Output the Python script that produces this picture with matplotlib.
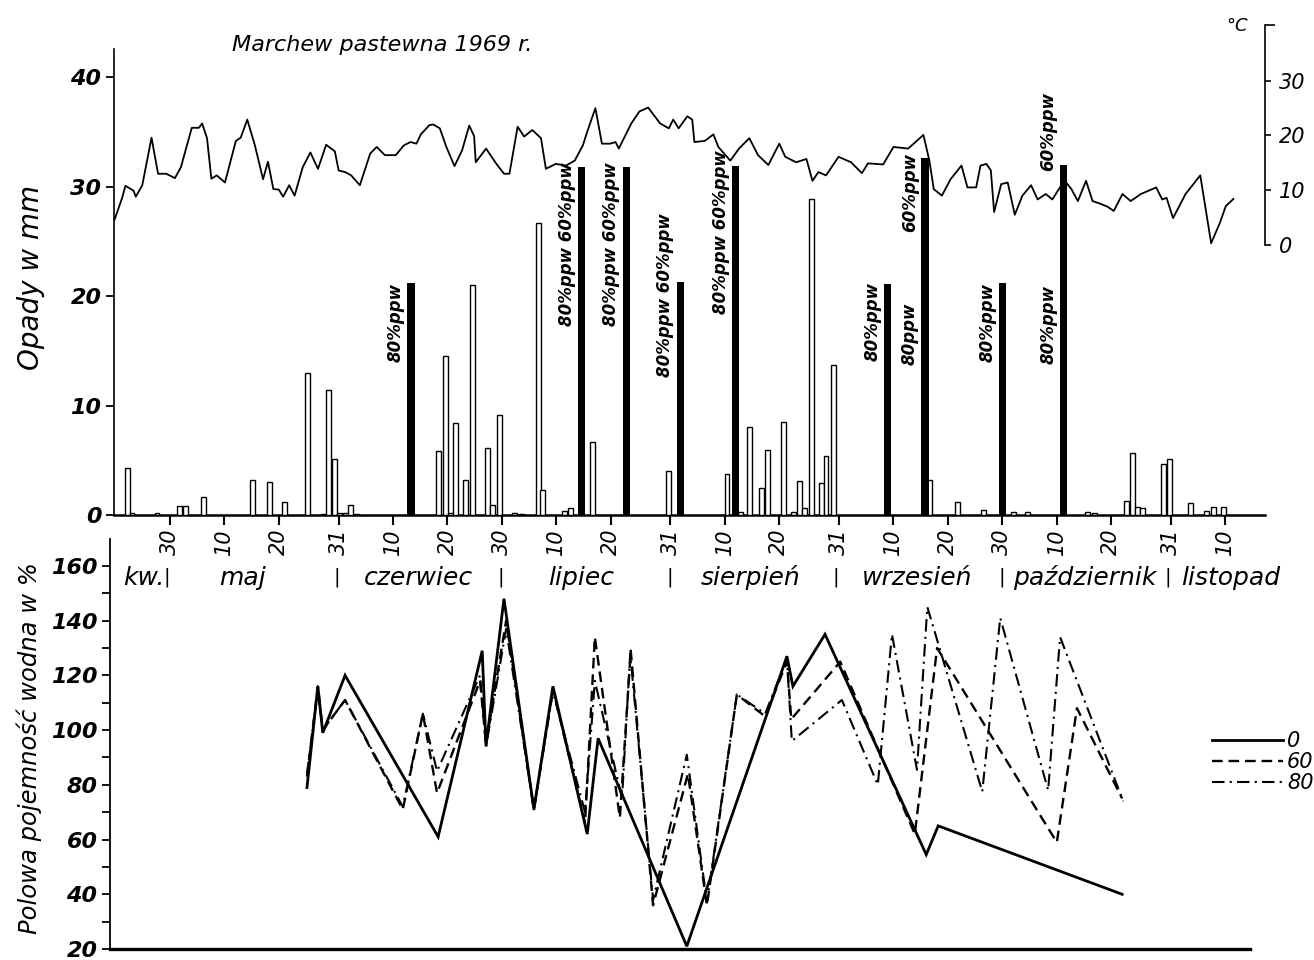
import numpy as np
import matplotlib.pyplot as plt
from matplotlib.lines import Line2D

# days are day-of-year 1969 (1 Jan = 1)
temp_day = [109.8, 111.2, 111.8, 113.3, 113.7, 114.9, 116.6, 117.8, 119.3, 120.9,
            122.0, 124.0, 125.3, 125.9, 126.8, 127.6, 128.6, 130.1, 132.1, 133.0,
            134.2, 135.6, 137.1, 138.0, 139.0, 140.0, 140.8, 141.9, 142.9, 144.4,
            145.8, 147.2, 148.7, 150.3, 151.0, 152.2, 153.3, 154.9, 156.8, 158.0,
            159.5, 161.5, 163.0, 164.2, 165.3, 166.1, 167.7, 168.4, 169.6, 170.8,
            172.3, 173.7, 175.0, 175.9, 176.2, 178.1, 180.0, 181.4, 182.4, 183.9,
            185.1, 186.6, 188.2, 189.1, 190.9, 192.8, 194.4, 195.9, 196.7, 198.2,
            199.4, 200.9, 201.9, 202.5, 204.8, 206.3, 207.9, 210.1, 211.7, 212.5,
            213.5, 215.1, 216.0, 216.4, 218.3, 219.9, 220.8, 223.0, 224.6, 226.5,
            228.1, 230.0, 232.0, 233.1, 235.1, 237.0, 238.1, 239.2, 240.6, 242.9,
            245.2, 247.2, 248.3, 251.1, 253.0, 255.7, 258.5, 259.6, 260.4, 261.9,
            263.5, 265.5, 266.6, 268.2, 269.0, 270.1, 270.9, 271.5, 272.8, 274.0,
            275.3, 276.7, 278.3, 279.5, 281.0, 282.2, 283.8, 284.5, 285.7, 286.9,
            288.4, 289.6, 290.8, 292.3, 293.5, 295.1, 296.6, 298.5, 301.3, 302.4,
            303.2, 304.4, 306.7, 309.4, 311.4, 313.0, 314.1, 315.5]
temp_c = [4.6, 8.6, 10.8, 9.9, 8.8, 10.9, 19.6, 13.0, 13.0, 12.2,
          14.2, 21.4, 21.4, 22.2, 19.5, 12.1, 12.7, 11.4, 19.0, 19.6,
          22.9, 18.2, 12.0, 15.2, 10.2, 10.1, 8.8, 10.9, 9.0, 14.2,
          16.9, 13.9, 18.3, 17.1, 13.6, 13.3, 12.7, 10.9, 16.7, 17.9,
          16.4, 16.4, 18.2, 18.8, 18.5, 20.2, 21.9, 22.0, 21.3, 17.9,
          14.4, 17.3, 21.8, 19.9, 15.1, 17.6, 14.8, 13.0, 13.0, 21.6,
          19.8, 21.0, 19.5, 13.9, 14.8, 14.5, 15.4, 18.2, 20.7, 25.0,
          18.5, 18.5, 18.8, 17.6, 22.2, 24.4, 25.1, 22.2, 21.3, 22.9,
          21.3, 23.5, 22.9, 18.8, 19.0, 20.2, 17.9, 15.4, 17.6, 19.5,
          16.4, 14.6, 18.5, 16.1, 15.1, 15.7, 11.7, 13.3, 12.7, 16.1,
          15.1, 13.1, 14.9, 14.7, 17.9, 17.6, 20.1, 15.4, 10.2, 9.0,
          12.0, 14.5, 10.5, 10.5, 14.5, 14.8, 13.6, 6.0, 11.1, 11.4,
          5.5, 9.0, 10.9, 8.3, 9.3, 8.3, 10.8, 11.7, 10.2, 8.0,
          11.7, 8.0, 7.6, 7.0, 6.2, 9.3, 8.0, 9.3, 10.5, 8.3,
          8.6, 4.9, 9.3, 12.7, 0.3, 4.0, 7.1, 8.4]

rain_day = [112.2, 113.0, 117.6, 121.7, 122.9, 126.1, 135.2, 138.3, 141.1, 145.2,
            148.2, 149.2, 150.2, 151.2, 152.2, 153.2, 154.2, 169.3, 170.7, 171.5,
            172.5, 174.4, 175.6, 178.4, 179.3, 180.5, 183.4, 184.6, 187.8, 188.4,
            192.6, 193.7, 197.6, 211.6, 222.4, 224.8, 226.6, 228.8, 229.8, 232.7,
            234.6, 235.8, 236.7, 238.0, 239.7, 240.6, 241.9, 259.7, 264.7, 269.6,
            275.0, 277.7, 288.7, 290.0, 295.9, 297.0, 297.8, 298.8, 302.6, 303.7,
            307.6, 310.6, 311.8, 313.6]
rain_mm = [4.3, 0.2, 0.2, 0.8, 0.8, 1.6, 3.2, 3.0, 1.2, 13.0,
           0.1, 11.4, 5.1, 0.2, 0.2, 0.9, 0.1, 5.8, 14.5, 0.2,
           8.4, 3.2, 21.0, 6.1, 0.9, 9.1, 0.2, 0.1, 26.7, 2.3,
           0.4, 0.6, 6.7, 4.0, 3.7, 0.3, 8.0, 2.5, 5.9, 8.5,
           0.3, 3.1, 0.6, 28.9, 2.9, 5.4, 13.7, 3.2, 1.2, 0.5,
           0.3, 0.3, 0.3, 0.2, 1.3, 5.7, 0.7, 0.6, 4.7, 5.1,
           1.1, 0.4, 0.7, 0.7]

# irrigation doses
irr_day = [164.3, 195.7, 203.9, 213.8, 224.0, 251.9, 258.8, 273.1, 284.2]
irr_mm = [21.2, 31.8, 31.8, 21.3, 31.9, 21.1, 32.6, 21.2, 32.0]

# field water capacity, % (0 = no irrigation, 60 / 80 = irrigated at 60 / 80 % ppw)
w0_day = [145.2, 147.2, 148.1, 152.2, 169.3, 177.4, 178.1, 181.4, 186.9, 190.4,
          196.7, 198.7, 215.0, 233.4, 234.5, 240.4, 259.0, 261.2, 295.0]
w0 = [79, 116, 99, 120, 61, 129, 94, 148, 71, 116,
      62, 97, 21, 127, 116, 135, 54.5, 65, 40]

w60_day = [145.2, 147.2, 148.1, 152.2, 162.8, 166.5, 169.1, 177.0, 178.1, 181.8,
           186.9, 190.4, 196.3, 198.1, 202.7, 204.7, 208.8, 215.2, 218.7, 224.2,
           229.4, 233.4, 234.2, 243.2, 256.9, 261.0, 283.0, 286.7, 295.0]
w60 = [83, 116, 100, 111, 71, 106, 77, 118, 95, 140,
       71, 115, 66, 134, 68, 129, 36, 84, 36, 113,
       105, 125, 104, 125, 62, 130, 59, 108, 75]

w80_day = [145.2, 147.2, 148.1, 152.2, 162.8, 166.5, 169.1, 177.0, 178.1, 181.8,
           186.9, 190.4, 196.3, 198.1, 203.1, 204.6, 208.8, 215.0, 218.7, 224.2,
           229.4, 233.4, 234.3, 243.5, 250.1, 252.7, 257.3, 259.2, 269.3, 272.6,
           281.4, 283.6, 295.2]
w80 = [84, 115, 100, 111, 72, 106, 85, 120, 94, 137,
       71, 114, 70, 118, 75, 128, 38, 91, 37, 113,
       106, 126, 96, 111, 80, 135, 85.5, 145, 77.5, 141,
       78, 134, 74]

tick_days = [120, 130, 140, 151, 161, 171, 181, 191, 201, 212,
             222, 232, 243, 253, 263, 273, 283, 293, 304, 314]
tick_labels = ['30', '10', '20', '31', '10', '20', '30', '10', '20', '31',
               '10', '20', '31', '10', '20', '30', '10', '20', '31', '10']
months = ['kw.', 'maj', 'czerwiec', 'lipiec', 'sierpień', 'wrzesień',
          'październik', 'listopad']

W, H = 1314, 960


def box(l, t, r, b):
    return [l / W, 1 - b / H, (r - l) / W, (b - t) / H]


plt.rcParams['font.family'] = ['DejaVu Sans']
fig = plt.figure(figsize=(W / 100, H / 100), dpi=100)

num_font = dict(fontsize=16, fontstyle='italic', fontweight='bold')

# ---- upper panel: precipitation, irrigation, temperature
ax = fig.add_axes(box(114, 25, 1265, 515))
ax.set_xlim(109.7, 321.3)
ax.set_ylim(0, 44.75)
ax.patch.set_visible(False)

ax.bar(rain_day, rain_mm, width=0.9, facecolor='white', edgecolor='black',
       linewidth=1.0, zorder=3)
ax.bar(irr_day, irr_mm, width=1.3, color='black', zorder=3)

labels = [(0, '80%ppw', 21.2), (1, '80%ppw 60%ppw', 32.2), (2, '80%ppw 60%ppw', 32.2),
          (3, '80%ppw 60%ppw', 27.6), (4, '80%ppw 60%ppw', 33.3), (5, '80%ppw', 21.3),
          (6, '60%ppw', 33.1), (6, '80ppw', 19.4), (7, '80%ppw', 21.2),
          (8, '60%ppw', 38.6), (8, '80%ppw', 21.0)]
for i, txt, top in labels:
    ax.text(irr_day[i] - 1.1, top, txt, rotation=90, ha='right', va='top',
            fontsize=12, fontstyle='italic', fontweight='bold')

for s in ['top', 'right']:
    ax.spines[s].set_visible(False)
ax.spines['left'].set_bounds(0, 42.6)
ax.spines['left'].set_linewidth(1.2)
ax.spines['bottom'].set_linewidth(1.8)
ax.set_yticks([0, 10, 20, 30, 40])
ax.set_yticklabels(['0', '10', '20', '30', '40'], **num_font)
ax.tick_params(axis='y', direction='out', length=6, width=1.3, pad=3)
ax.set_xticks(tick_days)
ax.set_xticklabels(tick_labels, rotation=90, fontsize=15, fontstyle='italic')
ax.tick_params(axis='x', direction='out', length=7, width=1.5, pad=3)

axt = ax.twinx()
axt.set_ylim(-49.4, 40.2)
axt.plot(temp_day, temp_c, color='black', lw=1.3, zorder=4)
for s in ['top', 'left', 'bottom']:
    axt.spines[s].set_visible(False)
axt.spines['right'].set_bounds(0, 40.2)
axt.spines['right'].set_linewidth(1.2)
axt.set_yticks([0, 10, 20, 30])
axt.set_yticklabels(['0', '10', '20', '30'], fontsize=15, fontstyle='italic')
axt.set_yticks([0, 40.2], minor=True)
axt.tick_params(axis='y', which='major', direction='out', length=4, width=1.2, pad=6)
axt.tick_params(axis='y', which='minor', direction='out', length=7, width=1.2)

fig.text(232 / W, 1 - 45 / H, 'Marchew pastewna 1969 r.', ha='left', va='center',
         fontsize=16, fontstyle='italic')
fig.text(1237 / W, 1 - 26 / H, '°C', ha='center', va='center', fontsize=13,
         fontstyle='italic')
fig.text(31 / W, 1 - 277 / H, 'Opady w mm', rotation=90, ha='center', va='center',
         fontsize=20, fontstyle='italic')

# ---- lower panel: field water capacity
bx = fig.add_axes(box(110, 538, 1250, 949))
bx.set_xlim(109.0, 318.5)
bx.set_ylim(20, 170.2)
bx.patch.set_visible(False)
l0, = bx.plot(w0_day, w0, color='black', lw=2.0, solid_joinstyle='miter')
l60, = bx.plot(w60_day, w60, color='black', lw=1.7, linestyle=(0, (4.5, 2.5)))
l80, = bx.plot(w80_day, w80, color='black', lw=1.5, linestyle=(0, (6, 2.5, 1, 2.5)))

for s in ['top', 'right']:
    bx.spines[s].set_visible(False)
bx.spines['left'].set_bounds(20, 170)
bx.spines['left'].set_linewidth(1.3)
bx.spines['bottom'].set_linewidth(2.4)
bx.set_xticks([])
bx.set_yticks(np.arange(20, 161, 20))
bx.set_yticklabels([str(v) for v in range(20, 161, 20)], **num_font)
bx.set_yticks(np.arange(30, 160, 20), minor=True)
bx.tick_params(axis='y', which='both', direction='out', length=6, width=1.3, pad=3)

month_x = [115.2, 133.4, 165.6, 195.5, 226.8, 257.3, 288.2, 314.9]
for x, name in zip(month_x, months):
    bx.text(x, 155.6, name, ha='center', va='center', fontsize=18, fontstyle='italic')
for x in [119.5, 150.6, 180.8, 211.9, 242.4, 272.8, 303.4]:
    bx.text(x, 156, '|', ha='center', va='center', fontsize=14)

fig.text(29 / W, 1 - 748 / H, 'Polowa pojemność wodna w %', rotation=90,
         ha='center', va='center', fontsize=17.5, fontstyle='italic')

handles = [Line2D([], [], color='black', lw=2.0),
           Line2D([], [], color='black', lw=1.7, linestyle=(0, (4.5, 2.5))),
           Line2D([], [], color='black', lw=1.5, linestyle=(0, (6, 2.5, 1, 2.5)))]
bx.legend(handles, ['0', '60', '80'], loc='center left',
          bbox_to_anchor=(1212 / W, 1 - 762 / H), bbox_transform=fig.transFigure,
          frameon=False, handlelength=3.4, handletextpad=0.2, labelspacing=0.05,
          borderpad=0, borderaxespad=0, prop=dict(size=15, style='italic'))

fig.savefig('out.png', dpi=100, facecolor='white')
